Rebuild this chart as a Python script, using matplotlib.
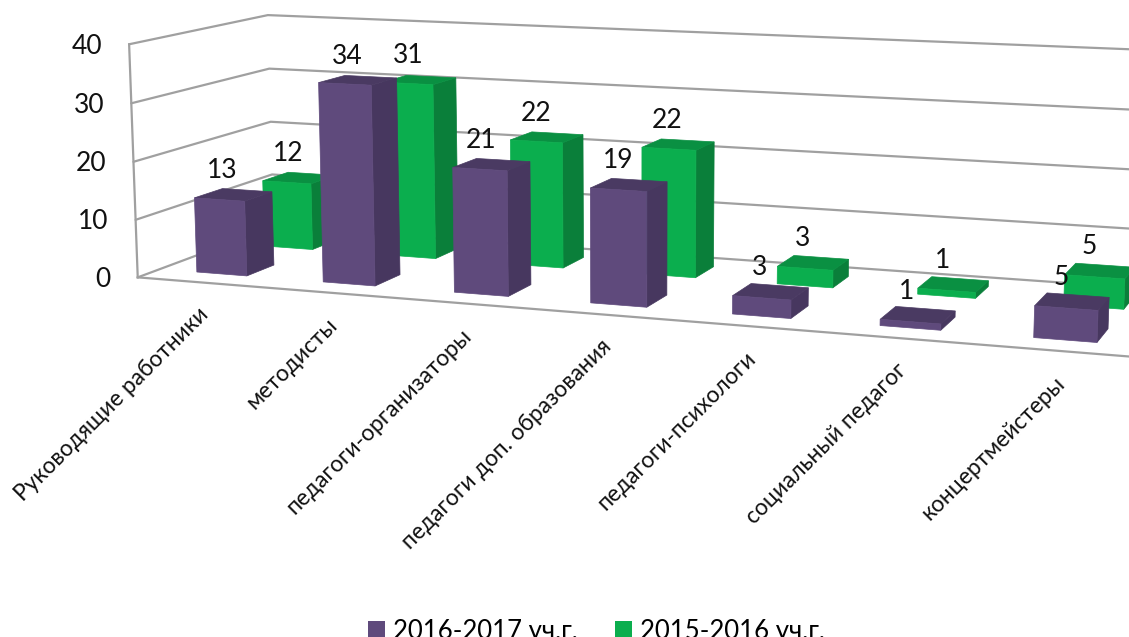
import numpy as np
import matplotlib
matplotlib.use("Agg")
import matplotlib.pyplot as plt
from matplotlib.patches import Polygon, Patch

categories = ["Руководящие работники", "методисты", "педагоги-организаторы",
              "педагоги доп. образования", "педагоги-психологи",
              "социальный педагог", "концертмейстеры"]
series_names = ["2016-2017 уч.г.", "2015-2016 уч.г."]
values_2016 = [13, 34, 21, 19, 3, 1, 5]
values_2015 = [12, 31, 22, 22, 3, 1, 5]
y_ticks = [0, 10, 20, 30, 40]

PURPLE = ("#5F4A7C", "#47375F", "#4A3A62")
GREEN = ("#0BAE4E", "#0A7F3A", "#0A9042")
GRID = "#A0A0A0"
FONT = ["Lato", "Open Sans", "DejaVu Sans"]

# calibration of the perspective view: (category pos, depth, value) -> pixel
calib = [
    (0, 0, 0, 137, 278), (0, 0, 40, 129, 43), (0, 0, 20, 134, 161),
    (0, 1, 0, 273, 227), (0, 1, 40, 268, 15), (0, 1, 30, 269, 68), (0, 1, 20, 270, 122),
    (.3, .15, 0, 197, 273), (1.3, .15, 0, 323, 283), (2.3, .15, 0, 454, 292),
    (3.3, .15, 0, 590, 303), (4.3, .15, 0, 732, 313), (5.3, .15, 0, 878, 325),
    (6.3, .15, 0, 1033, 338),
    (.7, .15, 0, 248, 276), (1.7, .15, 0, 376, 286), (2.7, .15, 0, 509, 296),
    (3.7, .15, 0, 647, 308), (4.7, .15, 0, 790, 319), (5.7, .15, 0, 940, 332),
    (6.7, .15, 0, 1100, 343),
    (1.3, .15, 34, 319, 82), (2.3, .15, 21, 453, 168), (3.3, .15, 19, 589, 188),
    (2.7, .65, 0, 564, 268), (2.3, .65, 22, 511, 140),
    (3.7, .65, 0, 697, 278), (3.3, .65, 22, 642, 150),
    (4.3, .65, 3, 779, 264), (4.7, .65, 3, 829, 268), (6.3, .65, 5, 1066, 272),
]
# far right ends of the grid lines: only their height on the picture is known
calib_height = [
    (6.65, 1, 40, 51), (6.65, 1, 30, 110), (6.65, 1, 20, 170),
    (6.65, 1, 10, 230), (7.1, 0, 0, 358),
]


def fit_camera(rows, rows_y):
    A = []
    for u, v, h, x, y in rows:
        X = [u / 7, v, h / 40, 1]
        px, py = x / 1000, y / 1000
        A.append(X + [0, 0, 0, 0] + [-px * c for c in X])
        A.append([0, 0, 0, 0] + X + [-py * c for c in X])
    for u, v, h, y in rows_y:
        X = [u / 7, v, h / 40, 1]
        A.append([0, 0, 0, 0] + X + [-y / 1000 * c for c in X])
    return np.linalg.svd(np.array(A))[2][-1].reshape(3, 4)


CAM = fit_camera(calib, calib_height)


def proj(u, v, h):
    p = CAM @ np.array([u / 7, v, h / 40, 1.0])
    return p[0] / p[2] * 1000, p[1] / p[2] * 1000


fig = plt.figure(figsize=(11.29, 6.37), dpi=100)
ax = fig.add_axes([0, 0, 1, 1])
ax.set_xlim(0, 1129)
ax.set_ylim(637, 0)
ax.axis("off")

U_END = 8.0
for t in y_ticks:
    pts = [proj(0, 0, t), proj(0, 1, t), proj(U_END, 1, t)]
    ax.plot(*zip(*pts), color=GRID, lw=1.6, solid_capstyle="round", zorder=1)
    ax.text(proj(0, 0, t)[0] - 27, proj(0, 0, t)[1] + 2, str(t), ha="right", va="center",
            fontsize=19, family=FONT, color="#111111", zorder=20)
ax.plot(*zip(proj(0, 0, 0), proj(0, 0, 40)), color=GRID, lw=1.6, zorder=1)
ax.plot(*zip(proj(0, 0, 0), proj(U_END, 0, 0)), color=GRID, lw=1.6, zorder=1)


def bar(i, val, v0, v1, cols, z):
    u0, u1 = i + .3, i + .7
    side = [proj(u1, v0, 0), proj(u1, v1, 0), proj(u1, v1, val), proj(u1, v0, val)]
    top = [proj(u0, v0, val), proj(u1, v0, val), proj(u1, v1, val), proj(u0, v1, val)]
    front = [proj(u0, v0, 0), proj(u1, v0, 0), proj(u1, v0, val), proj(u0, v0, val)]
    for poly, c in ((side, cols[1]), (top, cols[2]), (front, cols[0])):
        ax.add_patch(Polygon(poly, closed=True, facecolor=c, edgecolor=c, lw=.5, zorder=z))
    x, y = proj(i + .5, (v0 + v1) / 2, val)
    ax.text(x - 11, y - 24, str(val), ha="center", va="center", fontsize=19,
            family=FONT, color="#111111", zorder=20)


for i, val in enumerate(values_2015):
    bar(i, val, .65, .85, GREEN, 3)
for i, val in enumerate(values_2016):
    bar(i, val, .15, .35, PURPLE, 5)

for i, name in enumerate(categories):
    x, y = proj(i + .5, 0, 0)
    ax.text(x + 5, y + 29, name, rotation=45, rotation_mode="anchor", ha="right", va="center",
            fontsize=16.4, family=FONT, color="#111111", zorder=20)

handles = [Patch(facecolor=PURPLE[0]), Patch(facecolor=GREEN[0])]
ax.legend(handles, series_names, loc="center", bbox_to_anchor=(596.5 / 1129, 1 - 631 / 637),
          ncol=2, frameon=False, handlelength=.66, handleheight=.66, handletextpad=.31,
          columnspacing=1.44, prop={"family": FONT, "size": 18.5})

fig.savefig("out.png", dpi=100)
